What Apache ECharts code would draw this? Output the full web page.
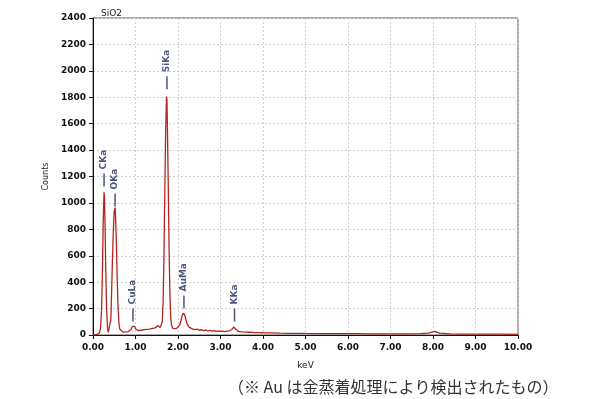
<!DOCTYPE html>
<html>
<head>
<meta charset="utf-8">
<script src="https://cdn.jsdelivr.net/npm/echarts@6/dist/echarts.min.js"></script>
<style>
  html, body { margin: 0; padding: 0; background: #fff; }
  #chart { width: 600px; height: 399px; }
</style>
</head>
<body>
<div id="chart"></div>
<script>
// spectrum (keV, counts)
const energy = [
  0.00, 0.05, 0.10, 0.15, 0.18, 0.20, 0.22, 0.24, 0.26, 0.27, 0.28, 0.30, 0.32, 0.34, 0.36, 0.38,
  0.40, 0.42, 0.44, 0.46, 0.48, 0.50, 0.52, 0.53, 0.55, 0.57, 0.59, 0.61, 0.63, 0.66, 0.70, 0.73,
  0.76, 0.80, 0.83, 0.86, 0.90, 0.93, 0.95, 0.98, 1.00, 1.03, 1.06, 1.10, 1.13, 1.16, 1.20, 1.23,
  1.26, 1.30, 1.33, 1.36, 1.40, 1.43, 1.46, 1.50, 1.53, 1.56, 1.58, 1.60, 1.63, 1.65, 1.67, 1.69,
  1.71, 1.73, 1.74, 1.75, 1.77, 1.79, 1.81, 1.83, 1.85, 1.88, 1.92, 1.96, 2.00, 2.04, 2.07, 2.10,
  2.13, 2.16, 2.19, 2.22, 2.26, 2.30, 2.35, 2.40, 2.45, 2.50, 2.55, 2.60, 2.65, 2.70, 2.75, 2.80,
  2.85, 2.90, 2.95, 3.00, 3.05, 3.10, 3.15, 3.20, 3.26, 3.31, 3.36, 3.42, 3.50, 3.60, 3.70, 3.80,
  3.90, 4.00, 4.20, 4.40, 4.60, 4.80, 5.00, 5.30, 5.60, 5.90, 6.20, 6.50, 6.80, 7.10, 7.40, 7.70,
  7.90, 8.04, 8.15, 8.40, 8.70, 9.00, 9.30, 9.60, 10.00
];
const counts = [
  0, 2, 5, 15, 60, 180, 450, 850, 1080, 1050, 900, 500, 200, 60, 20, 15,
  30, 120, 350, 600, 800, 940, 965, 900, 700, 420, 200, 90, 45, 30, 22, 30,
  24, 32, 26, 38, 44, 68, 60, 64, 48, 40, 34, 42, 36, 46, 40, 48,
  42, 50, 44, 52, 50, 58, 54, 62, 72, 66, 56, 60, 100, 250, 600, 1100,
  1550, 1805, 1780, 1600, 1150, 650, 300, 130, 70, 50, 44, 48, 56, 76, 112, 150,
  166, 150, 110, 80, 60, 50, 44, 40, 44, 36, 40, 33, 37, 31, 35, 29,
  33, 28, 31, 27, 30, 26, 29, 30, 40, 60, 44, 28, 24, 22, 21, 18,
  18, 17, 16, 14, 13, 13, 12, 11, 11, 10, 10, 9, 9, 8, 9, 10,
  14, 28, 14, 8, 7, 7, 6, 6, 5
];

// peak markers
const peakNames = ["CKa", "OKa", "CuLa", "SiKa", "AuMa", "KKa"];
const peakEnergy = [0.26, 0.52, 0.94, 1.74, 2.14, 3.33];
const peakMarkY = [1174, 1023, 152, 1909, 250, 152];

const xTicks = [0, 1, 2, 3, 4, 5, 6, 7, 8, 9, 10];
const yTicks = [0, 200, 400, 600, 800, 1000, 1200, 1400, 1600, 1800, 2000, 2200, 2400];

const chart = echarts.init(document.getElementById("chart"));

const option = {
  animation: false,
  backgroundColor: "#ffffff",
  title: [
    {
      text: "SiO2",
      left: 96,
      top: 4,
      textStyle: { fontSize: 9, fontWeight: "normal", color: "#222", fontFamily: "DejaVu Sans" },
    },
    {
      text: "（※ Au は金蒸着処理により検出されたもの）",
      left: 223,
      top: 374,
      textStyle: { fontSize: 16, fontWeight: "normal", color: "#333", fontFamily: "Noto Sans CJK JP" },
    },
  ],
  grid: {
    left: 93, right: 82, top: 18, bottom: 64,
    show: true, borderColor: "#555", borderWidth: 1,
  },
  xAxis: {
    type: "value",
    min: xTicks[0],
    max: xTicks[xTicks.length - 1],
    interval: 1,
    name: "keV",
    nameLocation: "middle",
    nameGap: 26,
    nameTextStyle: { fontSize: 9, color: "#222", fontFamily: "DejaVu Sans" },
    axisLine: { show: true, lineStyle: { color: "#111" } },
    axisTick: { show: true, length: 4, lineStyle: { color: "#111" } },
    axisLabel: {
      fontSize: 9, color: "#111", margin: 8, fontFamily: "DejaVu Sans", fontWeight: "bold",
      formatter: (v) => v.toFixed(2),
    },
    splitLine: { show: true, lineStyle: { color: "#cfcfcf", type: [2, 2] } },
  },
  yAxis: {
    type: "value",
    min: yTicks[0],
    max: yTicks[yTicks.length - 1],
    interval: 200,
    name: "Counts",
    nameLocation: "middle",
    nameGap: 36,
    nameRotate: 90,
    nameTextStyle: { fontSize: 8, color: "#222", fontFamily: "DejaVu Sans" },
    axisLine: { show: true, lineStyle: { color: "#111" } },
    axisTick: { show: true, length: 4, lineStyle: { color: "#111" } },
    axisLabel: {
      fontSize: 9, color: "#111", margin: 7, fontFamily: "DejaVu Sans", fontWeight: "bold",
      formatter: (v) => String(v),
    },
    splitLine: { show: true, lineStyle: { color: "#cfcfcf", type: [2, 2] } },
  },
  series: [
    {
      type: "line",
      data: energy.map((e, i) => [e, counts[i]]),
      symbol: "none",
      smooth: false,
      lineStyle: { color: "#b3261e", width: 1.3 },
      z: 3,
    },
    {
      type: "scatter",
      data: peakEnergy.map((e, i) => ({ value: [e, peakMarkY[i]], name: peakNames[i] })),
      symbol: "rect",
      symbolSize: [1.5, 13],
      itemStyle: { color: "#1f2a5c" },
      label: {
        show: true,
        position: "top",
        distance: 4,
        rotate: 90,
        align: "left",
        verticalAlign: "middle",
        formatter: (p) => p.name,
        fontSize: 9,
        fontWeight: "bold",
        color: "#1f2a5c",
        fontFamily: "DejaVu Sans",
      },
      z: 4,
    },
  ],
};

chart.setOption(option);
</script>
</body>
</html>
